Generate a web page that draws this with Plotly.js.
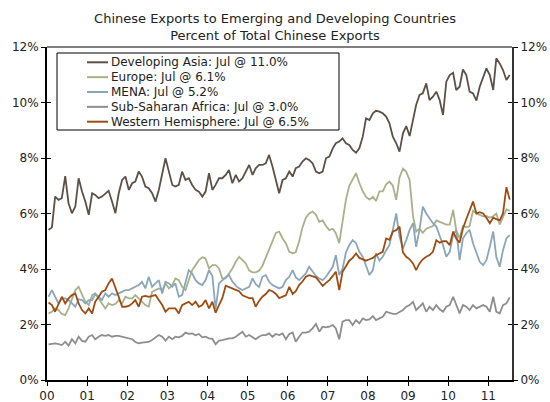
<!DOCTYPE html>
<html>
<head>
<meta charset="utf-8">
<script src="https://cdn.plot.ly/plotly-3.0.1.min.js"></script>
<style>
  html, body { margin: 0; padding: 0; background: #ffffff; }
  #chart { width: 550px; height: 402px; }
</style>
</head>
<body>
<div id="chart"></div>
<script>
// ---------------- DATA ----------------
// Monthly, Jan 2000 .. Jul 2011 (139 months), percent of total Chinese exports
const firstYear = 2000;
const yearTickLabels = ['00','01','02','03','04','05','06','07','08','09','10','11'];
const yTickValues = [0, 2, 4, 6, 8, 10, 12];
const yTickLabels = ['0%', '2%', '4%', '6%', '8%', '10%', '12%'];

const seriesNames = ['Developing Asia', 'Europe', 'MENA', 'Sub-Saharan Africa', 'Western Hemisphere'];
const legendLabels = [
  'Developing Asia: Jul @ 11.0%',
  'Europe: Jul @ 6.1%',
  'MENA: Jul @ 5.2%',
  'Sub-Saharan Africa: Jul @ 3.0%',
  'Western Hemisphere: Jul @ 6.5%'
];

const developingAsia = [
  5.41,5.50,6.61,6.49,6.55,7.35,6.37,6.01,6.25,7.27,6.79,6.43,
  5.95,6.73,6.67,6.55,6.61,6.73,6.82,6.43,6.01,6.73,7.21,7.33,
  6.85,7.09,7.15,7.51,7.33,6.97,6.91,6.73,6.43,6.85,7.45,7.99,
  7.51,7.03,6.97,7.03,7.51,7.21,7.27,7.03,6.85,6.79,6.61,6.79,
  7.45,6.85,7.03,7.27,7.27,7.39,7.57,7.09,7.39,7.15,7.27,7.51,
  7.75,7.39,7.63,7.75,7.75,7.81,8.11,7.69,7.21,6.73,7.21,7.27,
  7.51,7.33,7.63,7.69,7.87,7.99,7.93,7.81,7.51,7.45,7.51,7.99,
  8.05,8.35,8.53,8.59,8.71,8.53,8.47,8.29,8.19,8.35,8.77,9.43,
  9.37,9.61,9.70,9.67,9.61,9.49,9.25,8.77,8.53,8.23,8.89,9.15,
  8.79,9.37,9.91,10.27,10.33,10.69,10.09,10.21,10.39,10.09,9.55,10.75,
  10.99,11.07,10.45,10.57,11.19,10.99,10.39,10.33,10.07,10.57,10.93,11.23,
  10.99,10.45,11.59,11.41,11.17,10.81,10.99
];

const europe = [
  2.40,2.46,2.58,2.52,2.38,2.34,2.58,2.94,3.24,3.36,3.06,2.82,
  2.70,3.06,3.12,2.94,2.76,2.58,2.76,2.70,2.74,2.88,2.76,3.00,
  2.94,2.94,3.06,2.94,2.82,2.70,2.64,3.18,3.24,3.30,3.24,3.48,
  3.30,3.42,3.66,3.60,3.36,3.24,3.60,3.96,4.14,4.32,4.42,4.38,
  4.02,4.14,4.14,4.02,3.66,3.66,3.84,4.02,4.26,4.44,4.32,4.20,
  3.94,3.88,3.88,3.94,4.11,4.40,4.75,5.00,5.30,5.35,5.10,4.93,
  4.62,4.57,4.60,5.00,5.50,5.85,6.00,6.07,5.95,5.70,5.75,5.55,
  5.40,5.45,5.29,4.93,5.70,6.50,7.00,7.20,7.45,7.10,6.80,6.60,
  6.50,6.60,6.45,6.80,6.80,7.05,7.15,7.00,6.49,7.30,7.62,7.50,
  7.20,5.90,5.35,5.45,5.30,5.45,5.50,5.55,5.75,5.70,5.65,5.60,
  5.60,6.13,5.40,5.10,5.55,5.50,5.55,6.10,6.00,5.95,5.90,5.90,
  5.85,5.90,6.00,5.60,5.90,6.15,6.10
];

const mena = [
  3.00,3.24,3.00,2.76,2.94,2.94,2.88,2.76,2.64,2.91,2.88,2.76,
  2.88,2.88,3.10,3.00,2.88,3.12,3.00,3.12,3.06,3.12,3.18,3.24,
  3.24,3.30,3.34,3.42,3.54,3.30,3.72,3.36,3.48,3.60,3.12,3.54,
  3.48,3.36,3.48,3.00,3.06,3.48,3.96,3.84,3.60,3.48,3.42,3.60,
  3.96,3.75,2.55,3.48,3.60,3.70,3.78,3.55,3.40,3.30,3.24,3.30,
  3.36,3.66,3.45,3.35,3.72,3.78,3.54,3.42,3.35,3.30,3.36,3.60,
  3.72,3.96,3.70,3.60,3.72,3.84,4.08,3.90,3.75,3.66,3.60,3.72,
  3.90,4.08,4.50,3.78,4.00,4.60,4.86,5.04,4.93,4.62,4.44,4.14,
  3.78,3.96,4.56,4.30,4.44,4.68,4.86,5.41,6.00,5.16,4.74,5.04,
  5.41,5.65,4.80,5.41,6.25,6.00,5.83,5.65,5.53,5.22,4.86,4.44,
  4.62,5.22,5.41,4.32,5.10,5.29,5.41,4.93,4.56,4.26,4.14,4.32,
  4.80,5.35,4.44,4.08,4.68,5.10,5.22
];

const subSaharanAfrica = [
  1.28,1.29,1.32,1.29,1.26,1.38,1.24,1.47,1.32,1.56,1.41,1.38,
  1.56,1.62,1.47,1.56,1.62,1.59,1.62,1.56,1.59,1.59,1.56,1.51,
  1.49,1.47,1.37,1.32,1.35,1.35,1.37,1.44,1.54,1.62,1.56,1.42,
  1.56,1.47,1.56,1.54,1.59,1.71,1.66,1.68,1.61,1.66,1.54,1.56,
  1.50,1.48,1.29,1.42,1.44,1.47,1.50,1.50,1.56,1.65,1.74,1.56,
  1.62,1.54,1.47,1.56,1.62,1.62,1.68,1.56,1.66,1.62,1.68,1.47,
  1.66,1.71,1.38,1.56,1.71,1.71,1.74,1.86,2.02,1.74,1.92,1.90,
  1.92,1.98,1.86,1.47,2.10,2.16,2.16,1.98,2.16,2.04,2.22,2.16,
  2.18,2.30,2.16,2.22,2.28,2.46,2.42,2.38,2.38,2.46,2.52,2.64,
  2.70,2.82,2.52,2.64,2.76,2.46,2.64,2.52,2.70,2.55,2.46,2.64,
  2.70,3.00,2.70,2.40,2.70,2.64,2.52,2.70,2.58,2.64,2.70,2.64,
  2.46,3.00,2.46,2.40,2.70,2.76,2.98
];

const westernHemisphere = [
  2.79,2.70,2.46,2.76,3.00,2.76,2.94,3.06,3.12,2.76,2.52,2.40,
  2.58,2.40,2.82,3.00,3.18,3.24,3.48,3.66,3.36,3.00,2.64,2.64,
  2.67,2.76,2.88,2.64,3.00,3.03,3.00,3.03,3.06,2.88,2.70,2.46,
  2.58,2.58,2.58,2.40,2.70,2.76,2.82,2.70,2.82,2.64,2.70,2.88,
  2.58,2.82,2.42,2.70,2.95,3.40,3.36,3.30,3.25,3.20,3.05,3.00,
  2.95,2.95,2.64,2.85,3.00,3.10,3.24,3.20,3.10,2.95,3.00,3.05,
  3.36,3.10,3.20,3.42,3.55,3.72,3.78,3.75,3.70,3.55,3.39,3.50,
  3.60,3.75,3.90,3.24,3.90,4.10,4.30,4.40,4.56,4.40,4.35,4.30,
  4.35,4.40,4.50,4.55,4.62,5.10,5.05,5.35,5.40,5.53,4.60,4.44,
  4.35,4.20,3.96,4.20,4.35,4.44,4.50,4.62,5.04,4.95,5.00,5.00,
  4.86,5.35,5.10,4.95,5.45,5.80,6.10,6.43,6.00,6.05,6.00,5.85,
  5.65,5.85,5.80,5.75,6.00,6.95,6.50
];

// ---------------- STYLE ----------------
const seriesValues = [developingAsia, europe, mena, subSaharanAfrica, westernHemisphere];
const seriesColors = ['#5c5047', '#a9b18c', '#8aa6ba', '#8e8e8e', '#9e4d12'];
const FONT = 'DejaVu Sans, Verdana, sans-serif';
const M = { l: 47, r: 38, t: 47, b: 22 };
const W = 550, H = 402;
const plotW = W - M.l - M.r, plotH = H - M.t - M.b;
const px2x = px => (px - M.l) / plotW;
const px2y = py => (H - M.b - py) / plotH;

function monthDates(n) {
  const out = [];
  for (let i = 0; i < n; i++) {
    const y = firstYear + Math.floor(i / 12);
    const m = (i % 12) + 1;
    out.push(y + '-' + String(m).padStart(2, '0') + '-15');
  }
  return out;
}
const yearTickVals = yearTickLabels.map((_, k) => (firstYear + k) + '-01-01');

const traces = seriesValues.map((vals, k) => ({
  type: 'scatter', mode: 'lines',
  x: monthDates(vals.length), y: vals,
  name: seriesNames[k],
  line: { color: seriesColors[k], width: 1.8 },
  hoverinfo: 'skip'
}));
// empty carriers so the overlay axes (crossing ticks, right-hand labels) are drawn
[['x2', 'y'], ['x', 'y2'], ['x', 'y3'], ['x', 'y4']].forEach(([xa, ya]) => {
  traces.push({ type: 'scatter', mode: 'lines', x: [], y: [], xaxis: xa, yaxis: ya,
    showlegend: false, hoverinfo: 'skip' });
});

// legend drawn as box + sample lines + text
const legendBox = { left: 57, top: 53, right: 339, bottom: 130 };
const legendRow0 = 62.3, legendStep = 14.85;
const shapes = [
  { type: 'line', xref: 'paper', yref: 'paper', x0: 0, x1: 1, y0: 1, y1: 1,
    line: { color: '#000', width: 1 } },
  { type: 'rect', xref: 'paper', yref: 'paper',
    x0: px2x(legendBox.left), x1: px2x(legendBox.right),
    y0: px2y(legendBox.bottom), y1: px2y(legendBox.top),
    line: { color: '#000', width: 1 }, fillcolor: '#ffffff', layer: 'above' }
];
const annotations = [];
legendLabels.forEach((lab, k) => {
  const yy = px2y(legendRow0 + k * legendStep);
  shapes.push({ type: 'line', xref: 'paper', yref: 'paper',
    x0: px2x(87), x1: px2x(108), y0: yy, y1: yy,
    line: { color: seriesColors[k], width: 2 }, layer: 'above' });
  annotations.push({ xref: 'paper', yref: 'paper', x: px2x(109), y: yy,
    xanchor: 'left', yanchor: 'middle', showarrow: false, text: lab,
    font: { family: FONT, size: 12, color: '#222' } });
});

const yBase = { range: [0, 12], tickmode: 'array', tickvals: yTickValues, ticktext: yTickLabels,
  showgrid: false, zeroline: false, fixedrange: true,
  tickfont: { family: FONT, size: 12, color: '#222' } };

const layout = {
  width: W, height: H,
  margin: { l: M.l, r: M.r, t: M.t, b: M.b, pad: 0 },
  paper_bgcolor: '#ffffff', plot_bgcolor: '#ffffff',
  showlegend: false,
  font: { family: FONT, size: 12, color: '#222' },
  title: {
    text: 'Chinese Exports to Emerging and Developing Countries<br>Percent of Total Chinese Exports',
    font: { family: FONT, size: 13, color: '#222' },
    x: 0.5, xref: 'container', xanchor: 'center',
    y: 0.943, yref: 'container', yanchor: 'top'
  },
  xaxis: {
    type: 'date', range: ['2000-01-01', '2011-08-05'],
    tickmode: 'array', tickvals: yearTickVals, ticktext: yearTickLabels,
    ticks: 'outside', ticklen: 4, tickwidth: 1, tickcolor: '#000',
    showline: true, linecolor: '#000', linewidth: 2,
    showgrid: false, zeroline: false, fixedrange: true,
    tickfont: { family: FONT, size: 12, color: '#222' }
  },
  xaxis2: {
    type: 'date', overlaying: 'x', matches: 'x', anchor: 'y', side: 'bottom',
    tickmode: 'array', tickvals: yearTickVals, ticktext: yearTickLabels,
    ticks: 'inside', ticklen: 4, tickwidth: 1, tickcolor: '#000',
    showticklabels: false, showline: false, showgrid: false, zeroline: false
  },
  yaxis: Object.assign({}, yBase, {
    side: 'left', ticks: 'outside', ticklen: 4, tickwidth: 1, tickcolor: '#000',
    showline: true, linecolor: '#000', linewidth: 2
  }),
  yaxis2: Object.assign({}, yBase, {
    overlaying: 'y', matches: 'y', side: 'right', anchor: 'x',
    ticks: 'outside', ticklen: 4, tickwidth: 1, tickcolor: '#000',
    showline: true, linecolor: '#333', linewidth: 2
  }),
  yaxis3: Object.assign({}, yBase, {
    overlaying: 'y', matches: 'y', side: 'left', anchor: 'x',
    ticks: 'inside', ticklen: 4, tickwidth: 1, tickcolor: '#000',
    showticklabels: false, showline: false
  }),
  yaxis4: Object.assign({}, yBase, {
    overlaying: 'y', matches: 'y', side: 'right', anchor: 'x',
    ticks: 'inside', ticklen: 4, tickwidth: 1, tickcolor: '#000',
    showticklabels: false, showline: false
  }),
  shapes: shapes,
  annotations: annotations,
  hovermode: false
};

Plotly.newPlot('chart', traces, layout, { displayModeBar: false, staticPlot: true });
</script>
</body>
</html>
